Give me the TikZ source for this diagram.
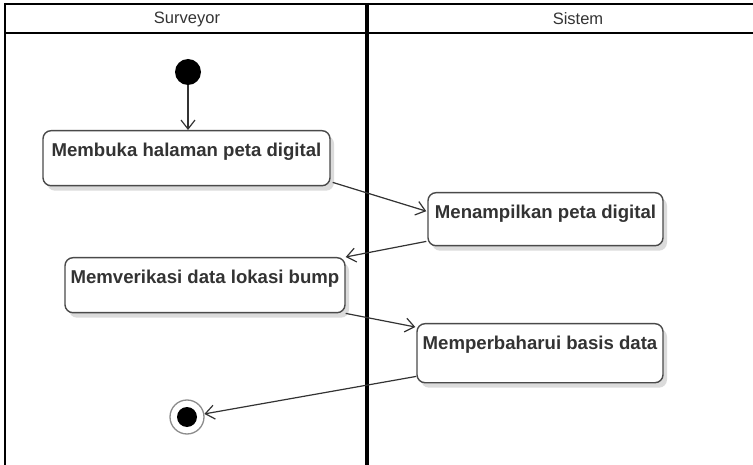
\documentclass[tikz,border=0pt]{standalone}
\usepackage{fontspec}
\setmainfont{Liberation Sans}
\usetikzlibrary{arrows.meta,shadows,calc}
\definecolor{ink}{HTML}{333333}
\definecolor{edgegray}{HTML}{4A4A4A}
\tikzset{
  lane/.style={draw=black, line width=2.4pt},
  divider/.style={draw=black, line width=3.2pt},
  lanetitle/.style={font=\fontsize{16.5}{19}\selectfont, text=ink, inner sep=0pt},
  action/.style={draw=edgegray, line width=1.4pt, rounded corners=8pt, fill=white,
    inner sep=0pt, align=center, text=ink,
    font=\fontsize{18.6}{21}\bfseries\selectfont, text height=26pt,
    drop shadow={shadow xshift=4pt, shadow yshift=-5pt, fill=black!14, opacity=1}},
  flow/.style={draw=ink, line width=1.2pt, -{Straight Barb[length=9pt,width=14pt,line width=1.2pt]}},
  startnode/.style={circle, fill=black, minimum size=26pt, inner sep=0pt},
  endring/.style={circle, draw=black!45, line width=1.3pt, fill=white, minimum size=34pt, inner sep=0pt},
  enddot/.style={circle, fill=black, minimum size=20pt, inner sep=0pt},
}
\begin{document}
\begin{tikzpicture}[x=1pt,y=-1pt]
  \path[use as bounding box] (0,0) rectangle (753,465);
  \clip (0,0) rectangle (753,465);

  % swimlane frame
  \draw[lane] (5,4) -- (760,4);
  \draw[lane] (5,33) -- (760,33);
  \draw[lane] (5,3) -- (5,470);
  \draw[divider] (367,3) -- (367,470);
  \node[lanetitle] (tsurv) at (187,19) {Surveyor};
  \node[lanetitle] (tsist) at (578,19) {Sistem};

  % initial and final states
  \node[startnode] (start) at (188,72) {};
  \node[endring] (finish) at (187,417) {};
  \node[enddot] (finishdot) at (187,417) {};

  % actions
  \node[action, minimum width=287pt, text depth=29pt] (open) at (186.5,130) [anchor=north] {Membuka halaman peta digital};
  \node[action, minimum width=235pt, text depth=27pt] (show) at (545.5,192) [anchor=north] {Menampilkan peta digital};
  \node[action, minimum width=280pt, text depth=29pt] (verify) at (205,257) [anchor=north] {Memverikasi data lokasi bump};
  \node[action, minimum width=246pt, text depth=33pt] (update) at (540,323) [anchor=north] {Memperbaharui basis data};

  % control flow
  \draw[flow] (start) -- (start |- open.north);
  \draw[flow] ($(open.south east)+(2,-4)$) -- ($(show.west)+(-1,-8)$);
  \draw[flow] ($(show.south west)+(-1,-5)$) -- ($(verify.north east)+(0,0)$);
  \draw[flow] ($(verify.south east)+(0,0)$) -- ($(update.north west)+(-1,4)$);
  \draw[flow] ($(update.south west)+(0,-7)$) -- (finish);
\end{tikzpicture}
\end{document}
